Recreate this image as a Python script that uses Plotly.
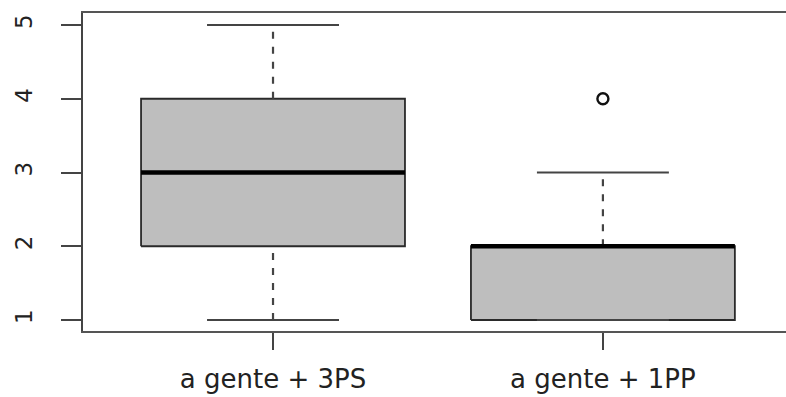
import plotly.graph_objects as go

categories = ["a gente + 3PS", "a gente + 1PP"]
lower_whisker = [1, 1]
q1 = [2, 1]
median = [3, 2]
q3 = [4, 2]
upper_whisker = [5, 3]
outliers = [[], [4]]
y_ticks = [1, 2, 3, 4, 5]

positions = [1, 2]
half_box = 0.4
half_cap = 0.2

fig = go.Figure()
for i, x in enumerate(positions):
    # box body
    fig.add_trace(go.Scatter(
        x=[x - half_box, x + half_box, x + half_box, x - half_box, x - half_box],
        y=[q1[i], q1[i], q3[i], q3[i], q1[i]],
        mode="lines", fill="toself", fillcolor="#bebebe",
        line=dict(color="#2a2a2a", width=1.8), hoverinfo="skip", showlegend=False))
    # whiskers (dashed)
    for a, b in [(q3[i], upper_whisker[i]), (lower_whisker[i], q1[i])]:
        if b > a:
            fig.add_trace(go.Scatter(x=[x, x], y=[a, b], mode="lines",
                                     line=dict(color="#444", width=2.2, dash="7px,8px"),
                                     hoverinfo="skip", showlegend=False))
    # caps
    for v in (lower_whisker[i], upper_whisker[i]):
        fig.add_trace(go.Scatter(x=[x - half_cap, x + half_cap], y=[v, v], mode="lines",
                                 line=dict(color="#444", width=2),
                                 hoverinfo="skip", showlegend=False))
    # median
    fig.add_trace(go.Scatter(x=[x - half_box, x + half_box], y=[median[i], median[i]],
                             mode="lines", line=dict(color="#000", width=4.5),
                             hoverinfo="skip", showlegend=False))
    # outliers
    if outliers[i]:
        fig.add_trace(go.Scatter(x=[x] * len(outliers[i]), y=outliers[i], mode="markers",
                                 marker=dict(symbol="circle-open", size=11, color="#111",
                                             line=dict(color="#111", width=2.4)),
                                 hoverinfo="skip", showlegend=False))

fig.update_layout(
    width=786, height=397,
    margin=dict(l=83, r=0, t=13, b=66),
    plot_bgcolor="white", paper_bgcolor="white",
    font=dict(family="DejaVu Sans, Liberation Sans, sans-serif", color="#222"),
    xaxis=dict(range=[0.424, 2.555], tickvals=positions, ticktext=categories,
               showgrid=False, zeroline=False, showline=True, mirror=True,
               linecolor="#555", linewidth=1.8, ticks="outside", ticklen=17,
               tickwidth=1.8, tickcolor="#444", tickfont=dict(size=26),
               ticklabelstandoff=7, automargin=False),
    yaxis=dict(range=[0.851, 5.163], tickvals=y_ticks, showgrid=False, zeroline=False,
               showline=True, linecolor="#444", linewidth=1.8, ticks="outside",
               ticklen=20, tickwidth=1.8, tickcolor="#444", tickangle=-90,
               tickfont=dict(size=23), ticklabelstandoff=20, automargin=False),
)
fig.write_html("out.html", config={"displayModeBar": False},
               post_script="document.body.style.margin='0';document.body.style.overflow='hidden';")
